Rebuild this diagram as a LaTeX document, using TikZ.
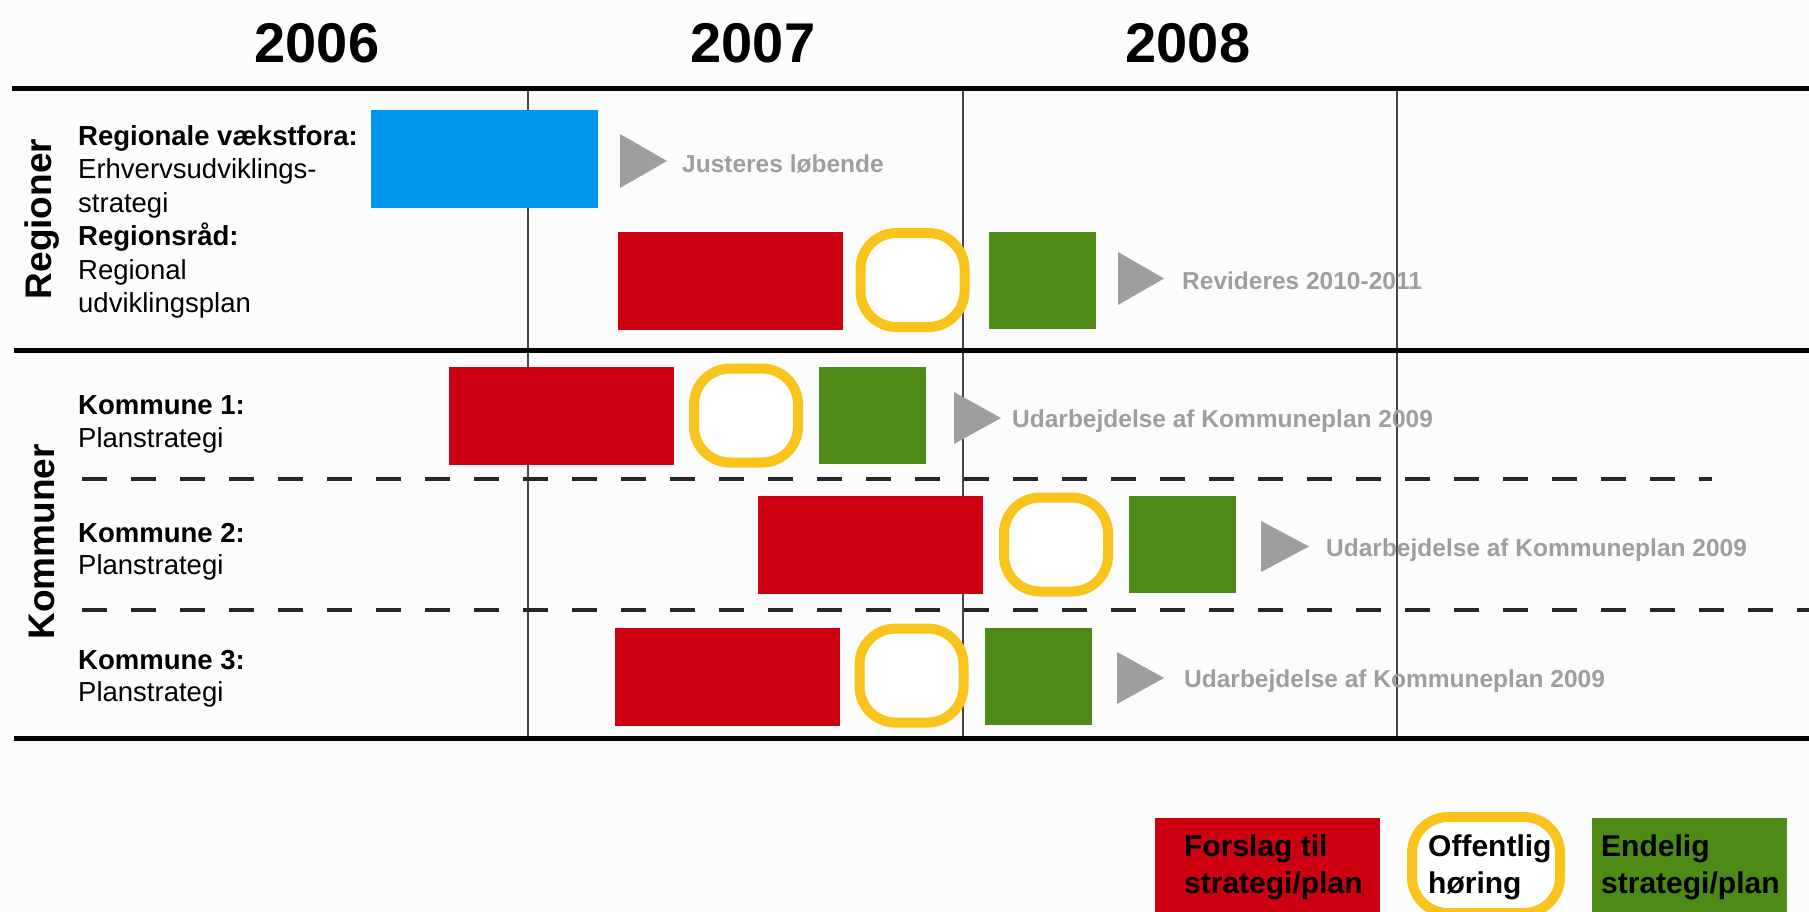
\documentclass[tikz,border=0pt]{standalone}
\usepackage{fontspec}
\setmainfont{Liberation Sans}
\definecolor{bred}{RGB}{204,0,16}
\definecolor{bblue}{RGB}{0,150,238}
\definecolor{bgreen}{RGB}{78,138,22}
\definecolor{byellow}{RGB}{248,196,28}
\definecolor{bgray}{RGB}{158,158,158}
\definecolor{vline}{RGB}{70,70,70}
\definecolor{bgc}{RGB}{252,252,252}
\begin{document}
\begin{tikzpicture}[x=1pt,y=-1pt,
  bar/.style={draw=none,inner sep=0pt,outer sep=0pt,anchor=north west},
  redbar/.style={bar,fill=bred,minimum width=225pt,minimum height=98pt},
  greenbar/.style={bar,fill=bgreen,minimum width=107pt,minimum height=97pt},
  bluebar/.style={bar,fill=bblue,minimum width=227pt,minimum height=98pt},
  hoer/.style={draw=byellow,fill=white,line width=10pt,rounded corners=36pt,inner sep=0pt,minimum width=104pt,minimum height=94pt},
  year/.style={font=\fontsize{56}{60}\selectfont\bfseries,inner sep=0pt},
  section/.style={font=\fontsize{37}{40}\selectfont\bfseries,rotate=90,inner sep=0pt},
  lbl/.style={font=\fontsize{27.5}{33}\selectfont,inner sep=0pt,anchor=base west},
  lblb/.style={lbl,font=\fontsize{27.5}{33}\selectfont\bfseries},
  note/.style={font=\fontsize{24.5}{28}\selectfont\bfseries,text=bgray,inner sep=0pt,anchor=base west},
  legtxt/.style={font=\fontsize{30}{36}\selectfont\bfseries,inner sep=0pt,anchor=base west},
  thick line/.style={line width=5pt,black},
  gridline/.style={line width=2pt,vline},
  dashline/.style={line width=3.5pt,black!85,dash pattern=on 25pt off 24pt},
  tri/.style={fill=bgray}
]
\useasboundingbox (0,0) rectangle (1809,912);
\fill[bgc] (0,0) rectangle (1809,912);

% years
\node[year] (y6) at (317,43) {2006};
\node[year] (y7) at (753,43) {2007};
\node[year] (y8) at (1188,43) {2008};

% grid
\coordinate (v1t) at (528,89);  \coordinate (v1b) at (528,738);
\coordinate (v2t) at (963,89);  \coordinate (v2b) at (963,738);
\coordinate (v3t) at (1397,89); \coordinate (v3b) at (1397,738);
\draw[gridline] (v1t) -- (v1b);
\draw[gridline] (v2t) -- (v2b);
\draw[gridline] (v3t) -- (v3b);

\coordinate (h1l) at (12,89);  \coordinate (h1r) at (1815,89);
\coordinate (h2l) at (14,350); \coordinate (h2r) at (1815,350);
\coordinate (h3l) at (14,738); \coordinate (h3r) at (1815,738);
\draw[thick line] (h1l) -- (h1r);
\draw[thick line] (h2l) -- (h2r);
\draw[thick line] (h3l) -- (h3r);

\coordinate (d1l) at (82,479); \coordinate (d1r) at (1712,479);
\coordinate (d2l) at (82,610); \coordinate (d2r) at (1815,610);
\draw[dashline] (d1l) -- (d1r);
\draw[dashline] (d2l) -- (d2r);

% section labels
\node[section] (reg) at (42,219) {Regioner};
\node[section] (kom) at (42,542) {Kommuner};

% row labels
\node[lblb] (l1a) at (78,146) {Regionale vækstfora:};
\node[lbl]  (l1b) at (78,179) {Erhvervsudviklings-};
\node[lbl]  (l1c) at (78,212) {strategi};
\node[lblb] (l2a) at (78,245) {Regionsråd:};
\node[lbl]  (l2b) at (78,279) {Regional};
\node[lbl]  (l2c) at (78,312) {udviklingsplan};
\node[lblb] (k1a) at (78,414) {Kommune 1:};
\node[lbl]  (k1b) at (78,447) {Planstrategi};
\node[lblb] (k2a) at (78,542) {Kommune 2:};
\node[lbl]  (k2b) at (78,574) {Planstrategi};
\node[lblb] (k3a) at (78,669) {Kommune 3:};
\node[lbl]  (k3b) at (78,701) {Planstrategi};

% row 1: Regionale vaekstfora
\node[bluebar] (b1) at (371,110) {};
\fill[tri] (620,134) -- (620,188) -- (667,161) -- cycle;
\node[note] (n1) at (682,173) {Justeres løbende};

% row 2: Regionsraad
\node[redbar] (r2) at (618,232) {};
\node[hoer] (o2) at (912.5,280) {};
\node[greenbar] (g2) at (989,232) {};
\fill[tri] (1118,252) -- (1118,305) -- (1164,278.5) -- cycle;
\node[note] (n2) at (1182,289) {Revideres 2010-2011};

% Kommune 1
\node[redbar] (r3) at (449,367) {};
\node[hoer] (o3) at (746,415.5) {};
\node[greenbar] (g3) at (819,367) {};
\fill[tri] (954,392) -- (954,444) -- (1001,418) -- cycle;
\node[note] (n3) at (1012,427) {Udarbejdelse af Kommuneplan 2009};

% Kommune 2
\node[redbar] (r4) at (758,496) {};
\node[hoer] (o4) at (1056,544.5) {};
\node[greenbar] (g4) at (1129,496) {};
\fill[tri] (1261,521) -- (1261,572) -- (1309,546.5) -- cycle;
\node[note] (n4) at (1326,556) {Udarbejdelse af Kommuneplan 2009};

% Kommune 3
\node[redbar] (r5) at (615,628) {};
\node[hoer] (o5) at (911.5,675.5) {};
\node[greenbar] (g5) at (985,628) {};
\fill[tri] (1117,652) -- (1117,704) -- (1164,678) -- cycle;
\node[note] (n5) at (1184,687) {Udarbejdelse af Kommuneplan 2009};

% legend
\node[bar,fill=bred,minimum width=225pt,minimum height=110pt] (lr) at (1155,818) {};
\node[hoer,minimum width=148pt,minimum height=96pt] (lo) at (1486,865) {};
\node[bar,fill=bgreen,minimum width=195pt,minimum height=110pt] (lg) at (1592,818) {};
\node[legtxt] (t1a) at (1184,856) {Forslag til};
\node[legtxt] (t1b) at (1184,893) {strategi/plan};
\node[legtxt] (t2a) at (1428,856) {Offentlig};
\node[legtxt] (t2b) at (1428,893) {høring};
\node[legtxt] (t3a) at (1601,856) {Endelig};
\node[legtxt] (t3b) at (1601,893) {strategi/plan};
\end{tikzpicture}
\end{document}
